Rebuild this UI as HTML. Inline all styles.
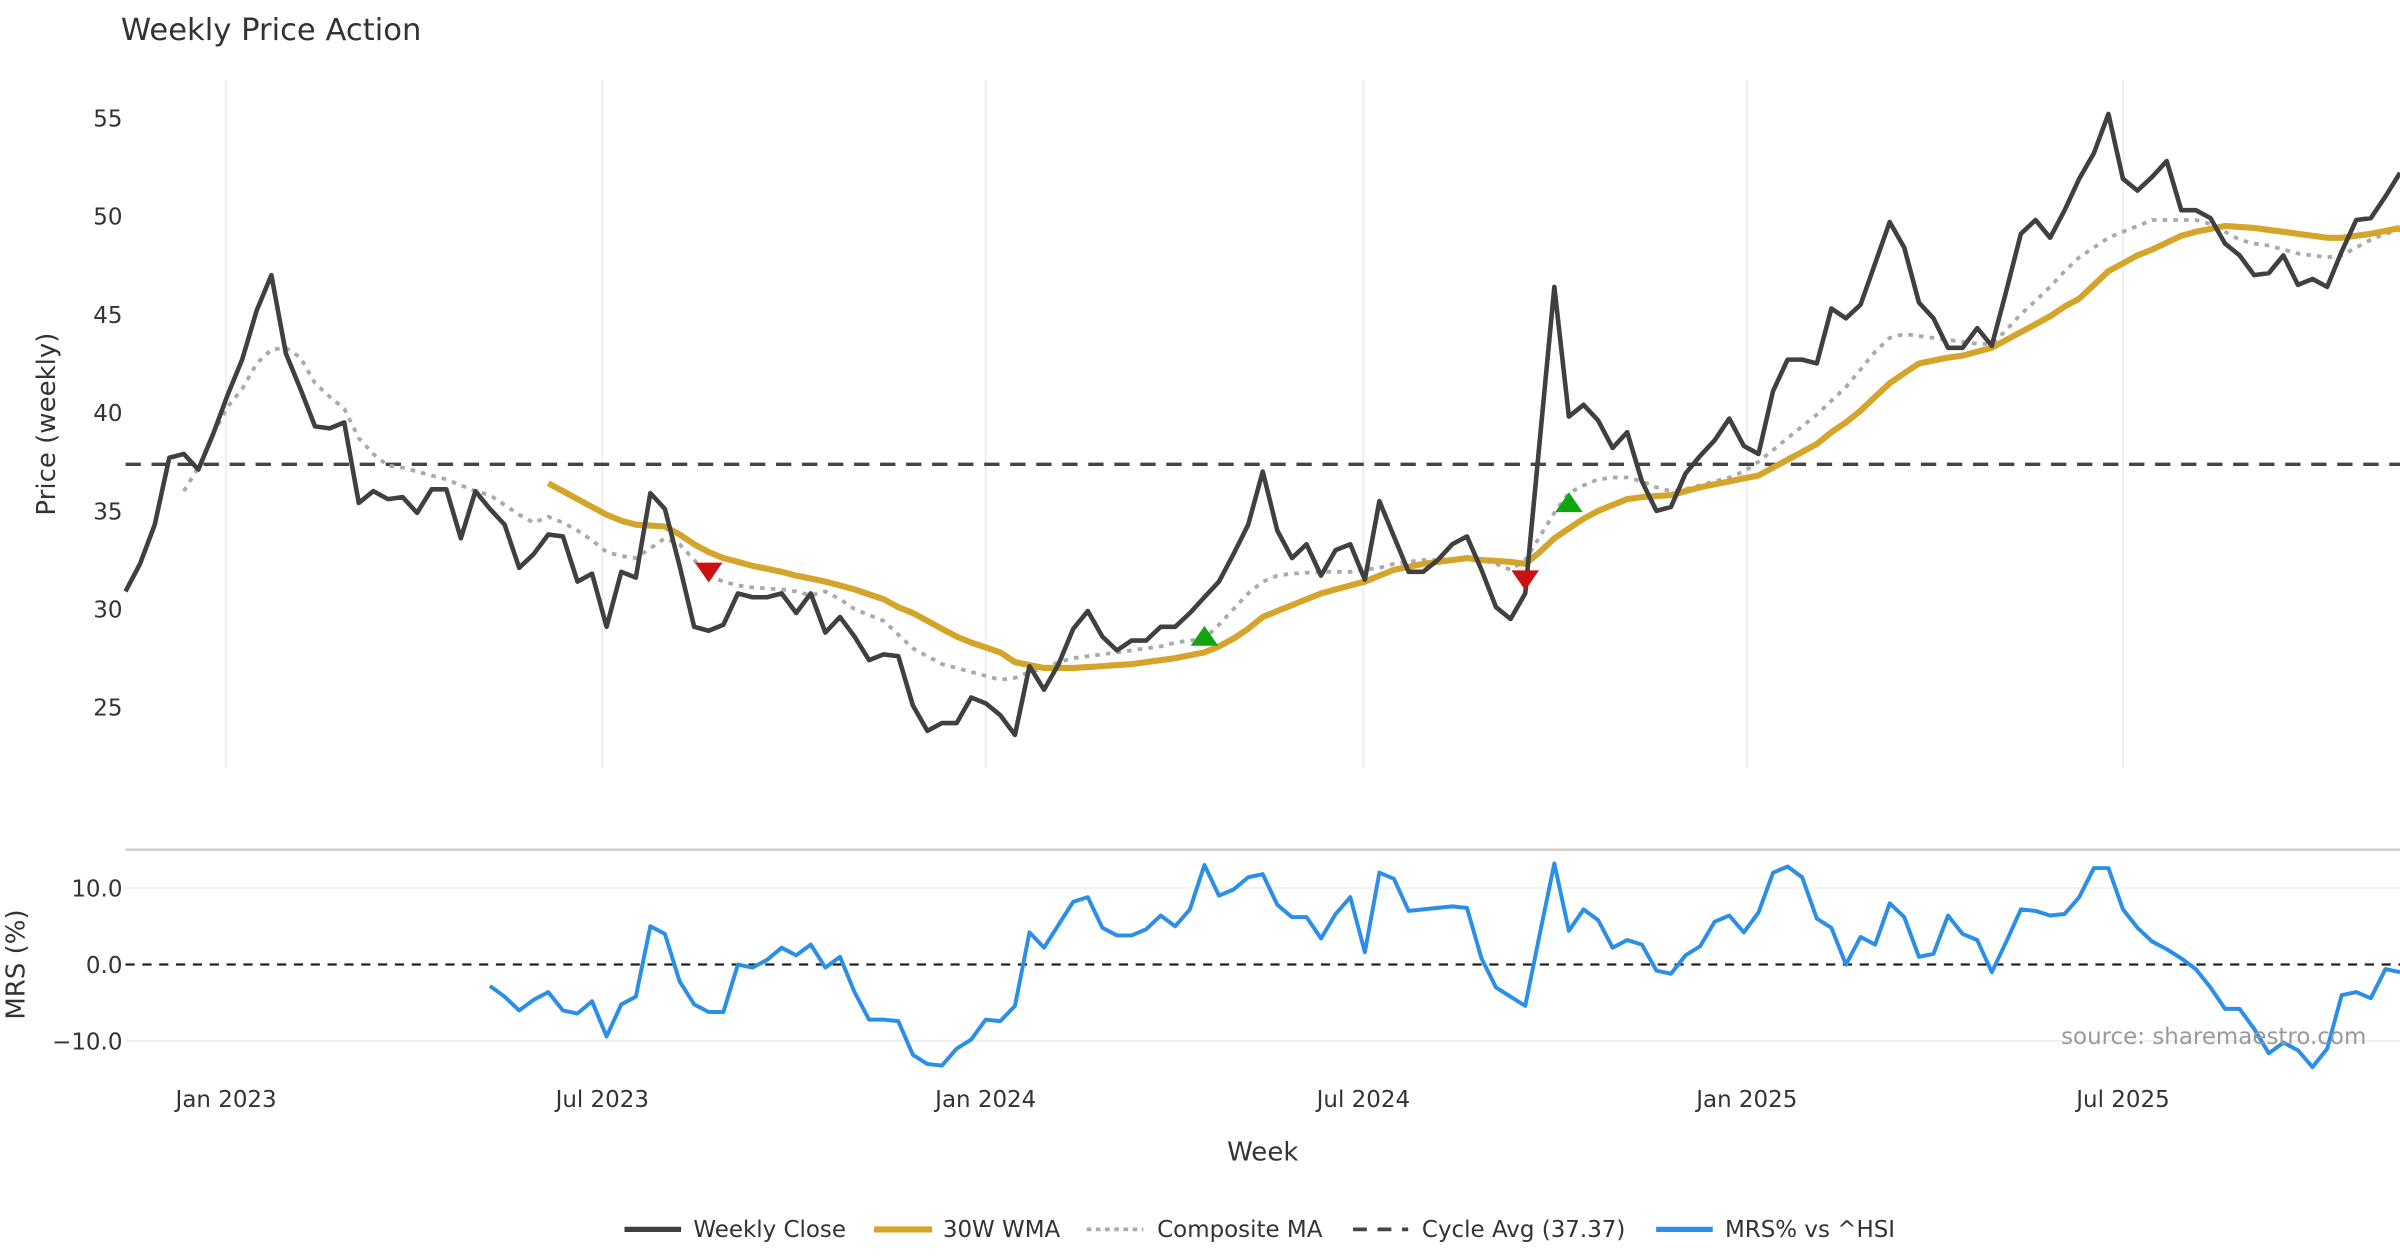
<!DOCTYPE html>
<html><head><meta charset="utf-8"><style>
html,body{margin:0;padding:0;background:#fff;}
svg{display:block;font-family:"DejaVu Sans","Liberation Sans",sans-serif;}
</style></head><body>
<svg id="chart" width="2400" height="1260" viewBox="0 0 1568 823" preserveAspectRatio="none" xmlns="http://www.w3.org/2000/svg">
<text x="79" y="26" font-size="20" fill="#333">Weekly Price Action</text>
<g id="grid"></g>
<g id="price"></g>
<g id="mrs"></g>
<text transform="translate(36,277) rotate(-90)" text-anchor="middle" font-size="17" fill="#333">Price (weekly)</text>
<text transform="translate(16,630) rotate(-90)" text-anchor="middle" font-size="17" fill="#333">MRS (%)</text>
<text x="825" y="758" text-anchor="middle" font-size="17" fill="#333">Week</text>
<text x="1546" y="682" text-anchor="end" font-size="15" fill="#999">source: sharemaestro.com</text>
<g font-size="15" fill="#333">
 <g><line x1="408" y1="803" x2="445" y2="803" stroke="#404040" stroke-width="3.5"/><text x="453" y="808">Weekly Close</text></g>
 <g><line x1="571" y1="803" x2="609" y2="803" stroke="#d4a52a" stroke-width="4"/><text x="616" y="808">30W WMA</text></g>
 <g><line x1="710" y1="803" x2="747" y2="803" stroke="#aaa" stroke-width="2.5" stroke-dasharray="3,3"/><text x="756" y="808">Composite MA</text></g>
 <g><line x1="884" y1="803" x2="920" y2="803" stroke="#444" stroke-width="2.5" stroke-dasharray="9,7"/><text x="929" y="808">Cycle Avg (37.37)</text></g>
 <g><line x1="1082" y1="803" x2="1119" y2="803" stroke="#2b8fe8" stroke-width="3.5"/><text x="1127" y="808">MRS% vs ^HSI</text></g>
</g>
</svg>
<script>
const closeVals=[30.9,32.3,34.3,37.7,37.9,37.1,38.9,40.9,42.7,45.2,47.0,43.0,41.2,39.3,39.2,39.5,35.4,36.0,35.6,35.7,34.9,36.1,36.1,33.6,36.0,35.1,34.3,32.1,32.8,33.8,33.7,31.4,31.8,29.1,31.9,31.6,35.9,35.1,32.2,29.1,28.9,29.2,30.8,30.6,30.6,30.8,29.8,30.8,28.8,29.6,28.6,27.4,27.7,27.6,25.1,23.8,24.2,24.2,25.5,25.2,24.6,23.6,27.1,25.9,27.2,29.0,29.9,28.6,27.9,28.4,28.4,29.1,29.1,29.8,30.6,
31.4,32.8,34.3,37.0,34.0,32.6,33.3,31.7,33.0,33.3,31.5,35.5,33.7,31.9,31.9,32.5,33.3,33.7,32.0,30.1,29.5,30.8,38.6,46.4,39.8,40.4,39.6,38.2,39.0,36.5,35.0,35.2,36.9,37.8,38.6,39.7,38.3,37.9,41.1,42.7,42.7,42.5,45.3,44.8,45.5,47.6,49.7,48.4,45.6,44.8,43.3,43.3,44.3,43.4,46.2,49.1,49.8,48.9,50.3,51.9,53.2,55.2,51.9,51.3,52.0,52.8,50.3,50.3,49.9,48.6,48.0,47.0,47.1,48.0,46.5,46.8,46.4,48.2,49.8,49.9,51.0,52.2];
const wmaStart=29;
const wmaVals=[36.4,36.0,35.6,35.2,34.8,34.5,34.3,34.25,34.2,33.8,33.3,32.9,32.6,32.4,32.2,32.05,31.9,31.7,31.55,31.4,31.2,31.0,30.75,30.5,30.1,29.8,29.4,29.0,28.6,28.3,28.05,27.8,27.3,27.15,27.0,27.0,27.0,27.05,27.1,27.15,27.2,27.3,27.4,27.5,27.65,27.8,28.1,28.5,29.0,29.6,29.9,30.2,30.5,30.8,31.0,31.2,31.4,31.7,32.0,32.15,32.3,32.4,32.5,32.6,32.5,32.45,32.4,32.3,32.9,33.6,34.1,34.6,35.0,35.3,35.6,35.7,35.75,35.8,36.0,36.2,36.35,36.5,36.65,36.8,37.2,37.6,38.0,38.4,39.0,39.5,40.1,40.8,41.5,42.0,42.5,42.65,42.8,42.9,43.1,43.3,43.7,44.1,44.5,44.9,45.4,45.8,46.5,47.2,47.6,48.0,48.3,48.65,49.0,49.2,49.35,49.5,49.45,49.4,49.3,49.2,49.1,49.0,48.9,48.9,49.0,49.1,49.25,49.4];
const compStart=4;
const compVals=[36.0,37.2,38.9,40.3,41.2,42.5,43.2,43.3,42.8,41.5,40.8,40.2,38.7,37.9,37.3,37.2,37.0,36.8,36.6,36.3,36.0,35.8,35.3,34.8,34.4,34.7,34.4,34.0,33.5,32.9,32.7,32.6,33.1,33.6,33.3,32.5,31.7,31.4,31.2,31.1,31.05,31.0,30.9,30.7,30.9,30.5,30.0,29.7,29.4,28.7,28.0,27.6,27.2,27.0,26.8,26.6,26.4,26.5,26.8,27.0,27.3,27.5,27.6,27.7,27.8,27.9,28.0,28.1,28.3,28.4,28.5,29.2,30.0,30.8,31.4,31.7,31.8,31.85,31.9,31.9,31.9,32.0,32.1,32.3,32.4,32.5,32.5,32.55,32.6,32.5,32.3,32.0,32.5,33.7,34.9,35.9,36.3,36.6,36.7,36.7,36.5,36.2,36.0,36.1,36.3,36.5,36.7,37.0,37.5,38.1,38.7,39.3,39.9,40.6,41.3,42.2,43.1,43.8,44.0,43.9,43.8,43.7,43.6,43.5,43.5,44.2,45.0,45.7,46.4,47.2,47.9,48.4,48.9,49.2,49.5,49.8,49.8,49.8,49.8,49.6,49.2,48.8,48.6,48.5,48.3,48.1,48.0,47.9,48.0,48.4,48.8,49.1,49.3];
const mrsVals=[-2.8,-4.2,-6.0,-4.6,-3.6,-6.0,-6.4,-4.8,-9.4,-5.2,-4.2,5.0,4.0,-2.2,-5.2,-6.2,-6.2,0,-0.4,0.6,2.2,1.2,2.6,-0.4,1.0,-3.6,-7.2,-7.2,-7.4,-11.8,-13.0,-13.2,-11.0,-9.8,-7.2,-7.4,-5.4,4.2,2.2,5.2,8.2,8.8,4.8,3.8,3.8,4.6,6.4,5.0,7.2,13.0,9.0,9.8,11.4,11.8,7.8,6.2,6.2,3.4,6.6,8.8,1.6,12.0,11.2,7.0,7.2,7.4,7.6,7.4,0.8,-3.0,-4.2,-5.4,4.0,13.2,4.4,7.2,5.8,2.2,3.2,2.6,-0.8,-1.2,1.2,2.4,5.6,6.4,4.2,6.8,12.0,12.8,11.4,6.0,4.8,0,3.6,2.6,8.0,6.2,1.0,1.4,6.4,4.0,3.2,-1.0,3.0,7.2,7.0,6.4,6.6,8.8,12.6,12.6,7.2,4.8,3.0,2.0,0.8,-0.6,-3.0,-5.8,-5.8,-8.4,-11.6,-10.2,-11.2,-13.4,-11.0,-4.0,-3.6,-4.4,-0.6,-1.0];
const cycleAvg=37.37;
const priceTicks=[25,30,35,40,45,50,55];
const mrsTicks=[-10,0,10];
const dateLabels=["Jan 2023","Jul 2023","Jan 2024","Jul 2024","Jan 2025","Jul 2025"];
const dateWeeks=[6.9,32.7,59,84.9,111.2,137];
const sellIdx=[40,96], sellVals=[31.9,31.5];
const buyIdx=[74,99], buyVals=[28.6,35.4];

const NS="http://www.w3.org/2000/svg";
const N=closeVals.length;
const X=i=>82+i*(1568-82)/(N-1);
const Y=v=>462-(v-25)*12.833;
const YM=v=>630-v*5;
function mk(tag,attrs,parent){const e=document.createElementNS(NS,tag);for(const k in attrs)e.setAttribute(k,attrs[k]);parent.appendChild(e);return e;}
const gridG=document.getElementById('grid'),priceG=document.getElementById('price'),mrsG=document.getElementById('mrs');
dateWeeks.forEach((w,k)=>{
 const g=mk('line',{x1:X(w),x2:X(w),y1:52,y2:502,stroke:'#ebebeb','stroke-width':1},gridG);
 
 
 const t=mk('text',{x:X(w),y:723,'text-anchor':'middle','font-size':15,fill:'#333'},gridG);
 t.textContent=dateLabels[k];
 
 
});
priceTicks.forEach(v=>{
 const t=mk('text',{x:80,y:Y(v)+5.5,'text-anchor':'end','font-size':15,fill:'#333'},gridG);
 t.textContent=v;
 
 
});
const cl=mk('line',{x1:82,x2:1568,y1:Y(cycleAvg),y2:Y(cycleAvg),stroke:'#444','stroke-width':2.2,'stroke-dasharray':'10,7'},priceG);


function path(vals,start,yf){return vals.map((v,j)=>(j?'L':'M')+X(start+j).toFixed(1)+','+yf(v).toFixed(1)).join('');}
const cp=mk('path',{d:path(compVals,compStart,Y),fill:'none',stroke:'#aaa','stroke-width':2.5,'stroke-dasharray':'3,4'},priceG);


const wp=mk('path',{d:path(wmaVals,wmaStart,Y),fill:'none',stroke:'#d4a52a','stroke-width':4,'stroke-linejoin':'round'},priceG);


const clp=mk('path',{d:path(closeVals,0,Y),fill:'none',stroke:'#404040','stroke-width':3,'stroke-linejoin':'round'},priceG);


sellIdx.forEach((i,k)=>{const x=X(i),y=Y(sellVals[k]);
 const p=mk('polygon',{points:`${x-9},${y-6} ${x+9},${y-6} ${x},${y+7}`,fill:'#cc1111'},priceG);
 
 });
buyIdx.forEach((i,k)=>{const x=X(i),y=Y(buyVals[k]);
 const p=mk('polygon',{points:`${x-9},${y+6} ${x+9},${y+6} ${x},${y-7}`,fill:'#11a611'},priceG);
 
 });
const panelTop=mk('line',{x1:82,x2:1568,y1:555,y2:555,stroke:'#ccc','stroke-width':1.5},mrsG);


mrsTicks.forEach(v=>{
 const l=mk('line',{x1:82,x2:1568,y1:YM(v),y2:YM(v),stroke:v===0?'#222':'#eee','stroke-width':v===0?1.5:1,'stroke-dasharray':v===0?'6,5':'none'},mrsG);
 
 
 const t=mk('text',{x:80,y:YM(v)+5.5,'text-anchor':'end','font-size':15,fill:'#333'},mrsG);
 t.textContent=(v<0?'\u2212':'')+Math.abs(v).toFixed(1);
 
 
});
const mp=mk('path',{d:path(mrsVals,N-mrsVals.length,YM),fill:'none',stroke:'#2b8fe8','stroke-width':2.6,'stroke-linejoin':'round'},mrsG);


</script>
</body></html>
